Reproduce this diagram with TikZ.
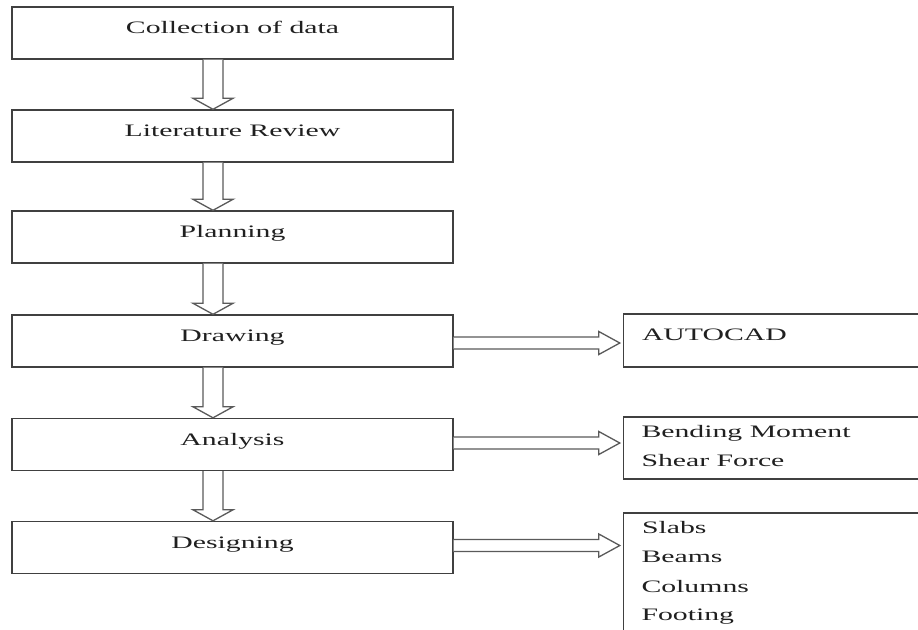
\documentclass[tikz,border=0pt]{standalone}
\usepackage{fontspec}
\setmainfont{Liberation Serif}
\usetikzlibrary{calc}
\definecolor{boxline}{HTML}{404040}
\definecolor{arrline}{HTML}{5A5A5A}
\definecolor{txt}{HTML}{202020}
\newcommand\widetxt[1]{\scalebox{1.7}[1]{#1}}
\tikzset{
  stepbox/.style={draw=boxline, line width=1.4pt, minimum width=441pt, inner sep=0pt,
    text height=26.5pt, text depth=25.5pt, text=txt,
    font=\fontsize{17.5}{21}\selectfont},
  sidebox/.style={draw=boxline, line width=1.4pt, inner sep=0pt, minimum width=316.5pt},
  sidetext/.style={anchor=base west, inner sep=0pt, text=txt, font=\fontsize{17.5}{21}\selectfont},
  fatarrow/.style={draw=arrline, line width=1.3pt, line join=miter, fill=white},
}
\newcommand\downfat[2]{%
  \path[fatarrow] let \p1=([xshift=-19.5pt]#1.south), \p2=([xshift=-19.5pt]#2.north) in
    (\x1-10pt,\y1) -- (\x1-10pt,\y2+11pt) -- (\x1-20pt,\y2+11pt) -- (\x1,\y2)
    -- (\x1+20pt,\y2+11pt) -- (\x1+10pt,\y2+11pt) -- (\x1+10pt,\y1);}
\newcommand\rightfat[3]{%
  \path[fatarrow] let \p1=([yshift=#3]#1.east), \p2=(#2.west) in
    (\x1,\y1+6pt) -- (\x2-24pt,\y1+6pt) -- (\x2-24pt,\y1+11.5pt) -- (\x2-3pt,\y1)
    -- (\x2-24pt,\y1-11.5pt) -- (\x2-24pt,\y1-6pt) -- (\x1,\y1-6pt);}
\begin{document}
\begin{tikzpicture}[x=1pt,y=-1pt]
\useasboundingbox[fill=white] (0,0) rectangle (918,629);
\clip (0,0) rectangle (918,629);
% main column
\node[stepbox] (c1) at (232.5,33) {\widetxt{Collection of data}};
\node[stepbox] (c2) at (232.5,136) {\widetxt{Literature Review}};
\node[stepbox] (c3) at (232.5,237) {\widetxt{Planning}};
\node[stepbox] (c4) at (232.5,341) {\widetxt{Drawing}};
\node[stepbox] (c5) at (232.5,444.5) {\widetxt{Analysis}};
\node[stepbox] (c6) at (232.5,547.5) {\widetxt{Designing}};
% side boxes
\node[sidebox, minimum height=53pt] (s1) at (781.75,340.5) {};
\node[sidebox, minimum height=62pt] (s2) at (781.75,448) {};
\node[sidebox, minimum height=147pt] (s3) at (781.75,586.5) {};
% side texts
\node[sidetext] (t1) at ([xshift=19pt,yshift=-27pt]s1.north west) {\widetxt{AUTOCAD}};
\node[sidetext] (t2) at ([xshift=18.5pt,yshift=-21pt]s2.north west) {\widetxt{Bending Moment}};
\node[sidetext] (t3) at ([xshift=18.5pt,yshift=-50pt]s2.north west) {\widetxt{Shear Force}};
\node[sidetext] (t4) at ([xshift=19pt,yshift=-21pt]s3.north west) {\widetxt{Slabs}};
\node[sidetext] (t5) at ([xshift=18.5pt,yshift=-50pt]s3.north west) {\widetxt{Beams}};
\node[sidetext] (t6) at ([xshift=18.5pt,yshift=-80pt]s3.north west) {\widetxt{Columns}};
\node[sidetext] (t7) at ([xshift=18.5pt,yshift=-108pt]s3.north west) {\widetxt{Footing}};
% arrows
\downfat{c1}{c2}
\downfat{c2}{c3}
\downfat{c3}{c4}
\downfat{c4}{c5}
\downfat{c5}{c6}
\rightfat{c4}{s1}{-2pt}
\rightfat{c5}{s2}{1.5pt}
\rightfat{c6}{s3}{2pt}
\end{tikzpicture}
\end{document}
